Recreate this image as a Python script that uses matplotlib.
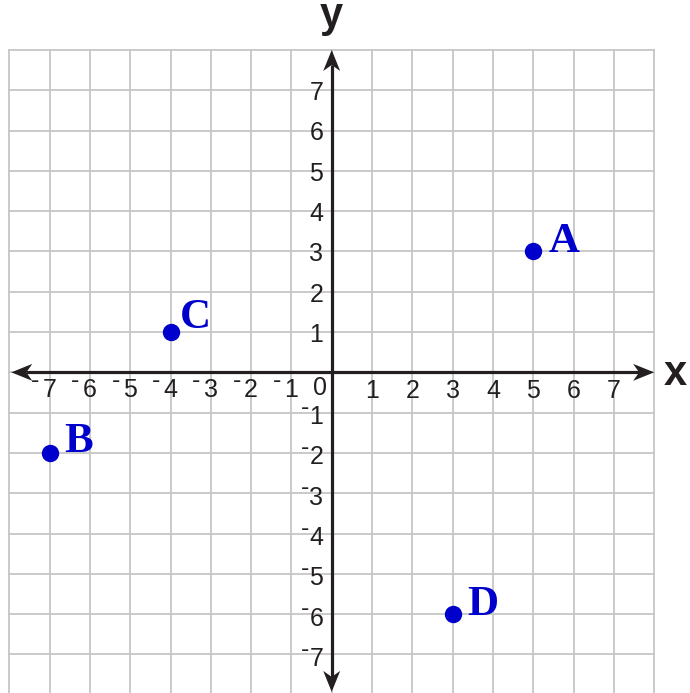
import matplotlib
matplotlib.use("Agg")
import matplotlib.pyplot as plt
from matplotlib.patches import Polygon

# ---- data ----
point_names = ["A", "B", "C", "D"]
point_x = [5, -7, -4, 3]
point_y = [3, -2, 1, -6]
x_ticks = [-7, -6, -5, -4, -3, -2, -1, 1, 2, 3, 4, 5, 6, 7]
y_ticks = [7, 6, 5, 4, 3, 2, 1, -1, -2, -3, -4, -5, -6, -7]
grid_min, grid_max = -8, 8

# label offsets (px) for the point names
label_dx = [15, 15, 9.5, 15]
label_dy = [-1, 1, 4, -1]

W, H = 690, 693
fig = plt.figure(figsize=(W / 100, H / 100), dpi=100)
fig.patch.set_facecolor("white")
ax = fig.add_axes([9.3 / W, 1 - 694.7 / H, 644.8 / W, 644.7 / H])
ax.set_xlim(grid_min, grid_max)
ax.set_ylim(grid_min, grid_max)
ax.axis("off")

unit = 40.3  # px per data unit
PT = 0.72    # points per px at dpi 100
grid_col = "#c6c6c6"
for v in range(grid_min, grid_max + 1):
    ax.plot([v, v], [grid_min, grid_max], color=grid_col, lw=1.3, clip_on=False, zorder=1)
    ax.plot([grid_min, grid_max], [v, v], color=grid_col, lw=1.3, clip_on=False, zorder=1)

axis_col = "#231f20"
L = 21 / unit
N = 15 / unit
HW = 8.5 / unit


def head(tip, d):
    tx, ty = tip
    dx, dy = d
    px, py = -dy, dx
    pts = [
        (tx, ty),
        (tx - dx * L + px * HW, ty - dy * L + py * HW),
        (tx - dx * N, ty - dy * N),
        (tx - dx * L - px * HW, ty - dy * L - py * HW),
    ]
    ax.add_patch(Polygon(pts, closed=True, color=axis_col, zorder=4, clip_on=False, lw=0))


x_lo, x_hi = -7.95, 8.0
y_lo, y_hi = -7.93, 8.0
ax.plot([x_lo + N, x_hi - N], [0, 0], color=axis_col, lw=2.3, zorder=3, solid_capstyle="butt")
ax.plot([0, 0], [y_lo + N, y_hi - N], color=axis_col, lw=2.3, zorder=3, solid_capstyle="butt", clip_on=False)
head((x_hi, 0), (1, 0))
head((x_lo, 0), (-1, 0))
head((0, y_hi), (0, 1))
head((0, y_lo), (0, -1))

fam = ["Liberation Sans", "DejaVu Sans"]
tc = "#231f20"
fs = 18
minus_raise = 9.3 * PT

# x-axis tick labels
for v in x_ticks:
    base = -(25.5 if v > 0 else 24.5) / unit
    ax.text(v, base, str(abs(v)), ha="center", va="baseline", fontsize=fs, family=fam, color=tc, zorder=5)
    if v < 0:
        ax.annotate("-", (v, base), xytext=(-10.2 * PT, minus_raise), textcoords="offset points",
                    ha="right", va="baseline", fontsize=fs, family=fam, color=tc, zorder=5)
ax.text(-0.3, -22.2 / unit, "0", ha="center", va="baseline", fontsize=fs, family=fam, color=tc, zorder=5)

# y-axis tick labels
for v in y_ticks:
    base = v - (9.8 if v > 0 else 11.4) / unit
    ax.text(-0.21, base, str(abs(v)), ha="right", va="baseline", fontsize=fs, family=fam, color=tc, zorder=5)
    if v < 0:
        ax.annotate("-", (-0.558, base), xytext=(0, minus_raise), textcoords="offset points",
                    ha="right", va="baseline", fontsize=fs, family=fam, color=tc, zorder=5)

ax.text(8.52, -0.315, "x", ha="center", va="baseline", fontsize=30, fontweight="bold",
        family=fam, color=tc, clip_on=False)
ax.text(0, 8.57, "y", ha="center", va="baseline", fontsize=30, fontweight="bold",
        family=fam, color=tc, clip_on=False)

blue = "#0000cc"
ax.plot(point_x, point_y, "o", color=blue, markersize=11.5, zorder=6, clip_on=False)
for name, px, py, dx, dy in zip(point_names, point_x, point_y, label_dx, label_dy):
    ax.annotate(name, (px, py), xytext=(dx * PT, dy * PT), textcoords="offset points",
                ha="left", va="baseline", fontsize=31, fontweight="bold",
                family=["Liberation Serif", "DejaVu Serif"], color=blue, zorder=6)

fig.savefig("out.png", dpi=100, facecolor="white")
